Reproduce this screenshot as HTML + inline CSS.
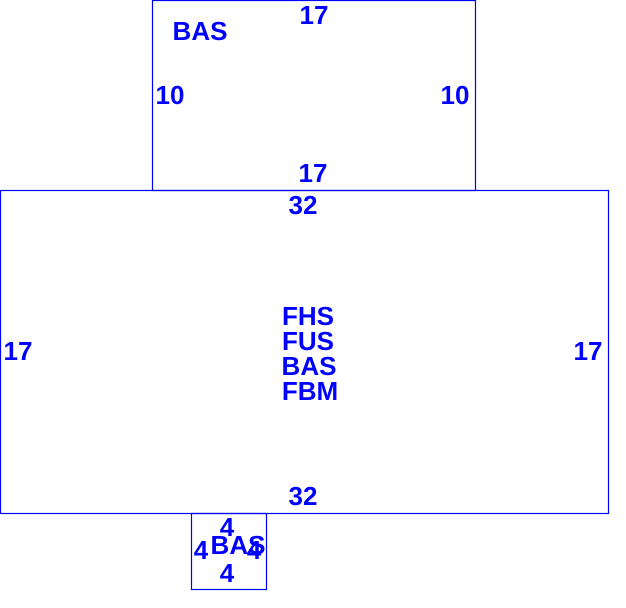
<!DOCTYPE html>
<html><head><style>html,body{margin:0;padding:0;background:#fff;}</style></head>
<body>
<svg width="626" height="608" xmlns="http://www.w3.org/2000/svg" style="display:block">
<g fill="none" stroke="#0000ff" stroke-width="1.2">
<rect x="152.5" y="0.5" width="323" height="190"/>
<rect x="0.5" y="190.5" width="608" height="323"/>
<rect x="191.5" y="513.5" width="75" height="76"/>
</g>
<g fill="#0000ff" font-family="Liberation Sans, sans-serif" font-weight="bold" font-size="26" text-anchor="middle" dominant-baseline="central">
<text x="314" y="15">17</text>
<text x="200" y="31">BAS</text>
<text x="170" y="95">10</text>
<text x="455" y="95">10</text>
<text x="313" y="173">17</text>
<text x="303" y="205">32</text>
<text x="308" y="316">FHS</text>
<text x="308" y="341">FUS</text>
<text x="309" y="366">BAS</text>
<text x="310" y="391">FBM</text>
<text x="18" y="351">17</text>
<text x="588" y="351">17</text>
<text x="303" y="496">32</text>
<text x="227" y="527">4</text>
<text x="201" y="550">4</text>
<text x="254" y="550">4</text>
<text x="238" y="545">BAS</text>
<text x="227" y="573">4</text>
</g>
</svg>
</body></html>
